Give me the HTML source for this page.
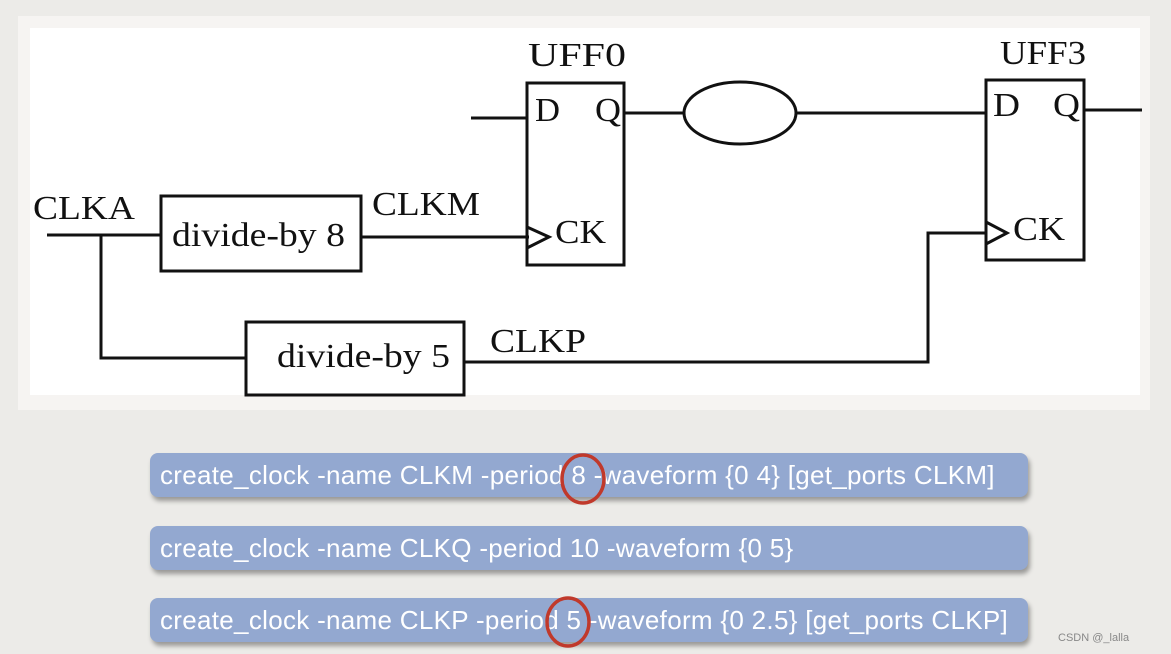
<!DOCTYPE html>
<html><head><meta charset="utf-8"><style>
html,body{margin:0;padding:0}
body{width:1171px;height:654px;background:#ecebe8;position:relative;overflow:hidden;font-family:"Liberation Sans",sans-serif}
.frame{position:absolute;left:18px;top:16px;width:1132px;height:394px;background:#f6f4f2}
.inner{position:absolute;left:30px;top:28px;width:1110px;height:367px;background:#fff}
.bar{position:absolute;left:150px;width:878px;height:44px;background:#93a8d0;border-radius:8px;box-shadow:2px 4px 5px rgba(0,0,0,0.35);color:#fff;font-size:26px;letter-spacing:0.3px;line-height:44px;padding-left:10px;box-sizing:border-box;white-space:nowrap}
.wm{position:absolute;left:1058px;top:632px;font-size:11px;color:#888}
</style></head><body>
<div class="frame"></div><div class="inner"></div>
<svg width="1171" height="410" style="position:absolute;left:0;top:0" font-family="Liberation Serif,serif" fill="none" stroke="#111" stroke-width="3">
<line x1="47" y1="235" x2="161" y2="235"/>
<rect x="161" y="196" width="200" height="75"/>
<line x1="361" y1="237" x2="529" y2="237"/>
<rect x="527" y="83" width="97" height="182"/>
<polyline points="527,227 549,237 527,248"/>
<line x1="471" y1="118" x2="527" y2="118"/>
<line x1="624" y1="113" x2="684" y2="113"/>
<ellipse cx="740" cy="113" rx="56" ry="31"/>
<line x1="796" y1="113" x2="986" y2="113"/>
<rect x="986" y="80" width="98" height="180"/>
<line x1="1084" y1="110" x2="1142" y2="110"/>
<polyline points="986,222 1007,233 986,244"/>
<polyline points="986,233 928,233 928,362 464,362"/>
<polyline points="101,235 101,358 246,358"/>
<rect x="246" y="322" width="218" height="73"/>
<g fill="#111" stroke="none" font-size="34" lengthAdjust="spacingAndGlyphs">
<text x="33" y="219" textLength="102" lengthAdjust="spacingAndGlyphs">CLKA</text>
<text x="172" y="246" textLength="173" lengthAdjust="spacingAndGlyphs">divide-by 8</text>
<text x="372" y="215" textLength="108" lengthAdjust="spacingAndGlyphs">CLKM</text>
<text x="528" y="66" textLength="98" lengthAdjust="spacingAndGlyphs">UFF0</text>
<text x="535" y="121" textLength="25" lengthAdjust="spacingAndGlyphs">D</text>
<text x="595" y="121" textLength="26" lengthAdjust="spacingAndGlyphs">Q</text>
<text x="555" y="243" textLength="51" lengthAdjust="spacingAndGlyphs">CK</text>
<text x="1000" y="64" textLength="86" lengthAdjust="spacingAndGlyphs">UFF3</text>
<text x="993" y="116" textLength="27" lengthAdjust="spacingAndGlyphs">D</text>
<text x="1053" y="116" textLength="27" lengthAdjust="spacingAndGlyphs">Q</text>
<text x="1013" y="240" textLength="52" lengthAdjust="spacingAndGlyphs">CK</text>
<text x="277" y="367" textLength="173" lengthAdjust="spacingAndGlyphs">divide-by 5</text>
<text x="490" y="352" textLength="96" lengthAdjust="spacingAndGlyphs">CLKP</text>
</g>
</svg>
<div class="bar" style="top:453px">create_clock -name CLKM -period 8 -waveform {0 4} [get_ports CLKM]</div>
<div class="bar" style="top:526px">create_clock -name CLKQ -period 10 -waveform {0 5}</div>
<div class="bar" style="top:598px">create_clock -name CLKP -period 5 -waveform {0 2.5} [get_ports CLKP]</div>
<svg width="1171" height="654" style="position:absolute;left:0;top:0" fill="none" stroke="#c0392b" stroke-width="3.5">
<ellipse cx="583" cy="479" rx="21" ry="24"/>
<ellipse cx="568" cy="622" rx="21" ry="24"/>
</svg>
<div class="wm">CSDN @_lalla</div>
</body></html>
